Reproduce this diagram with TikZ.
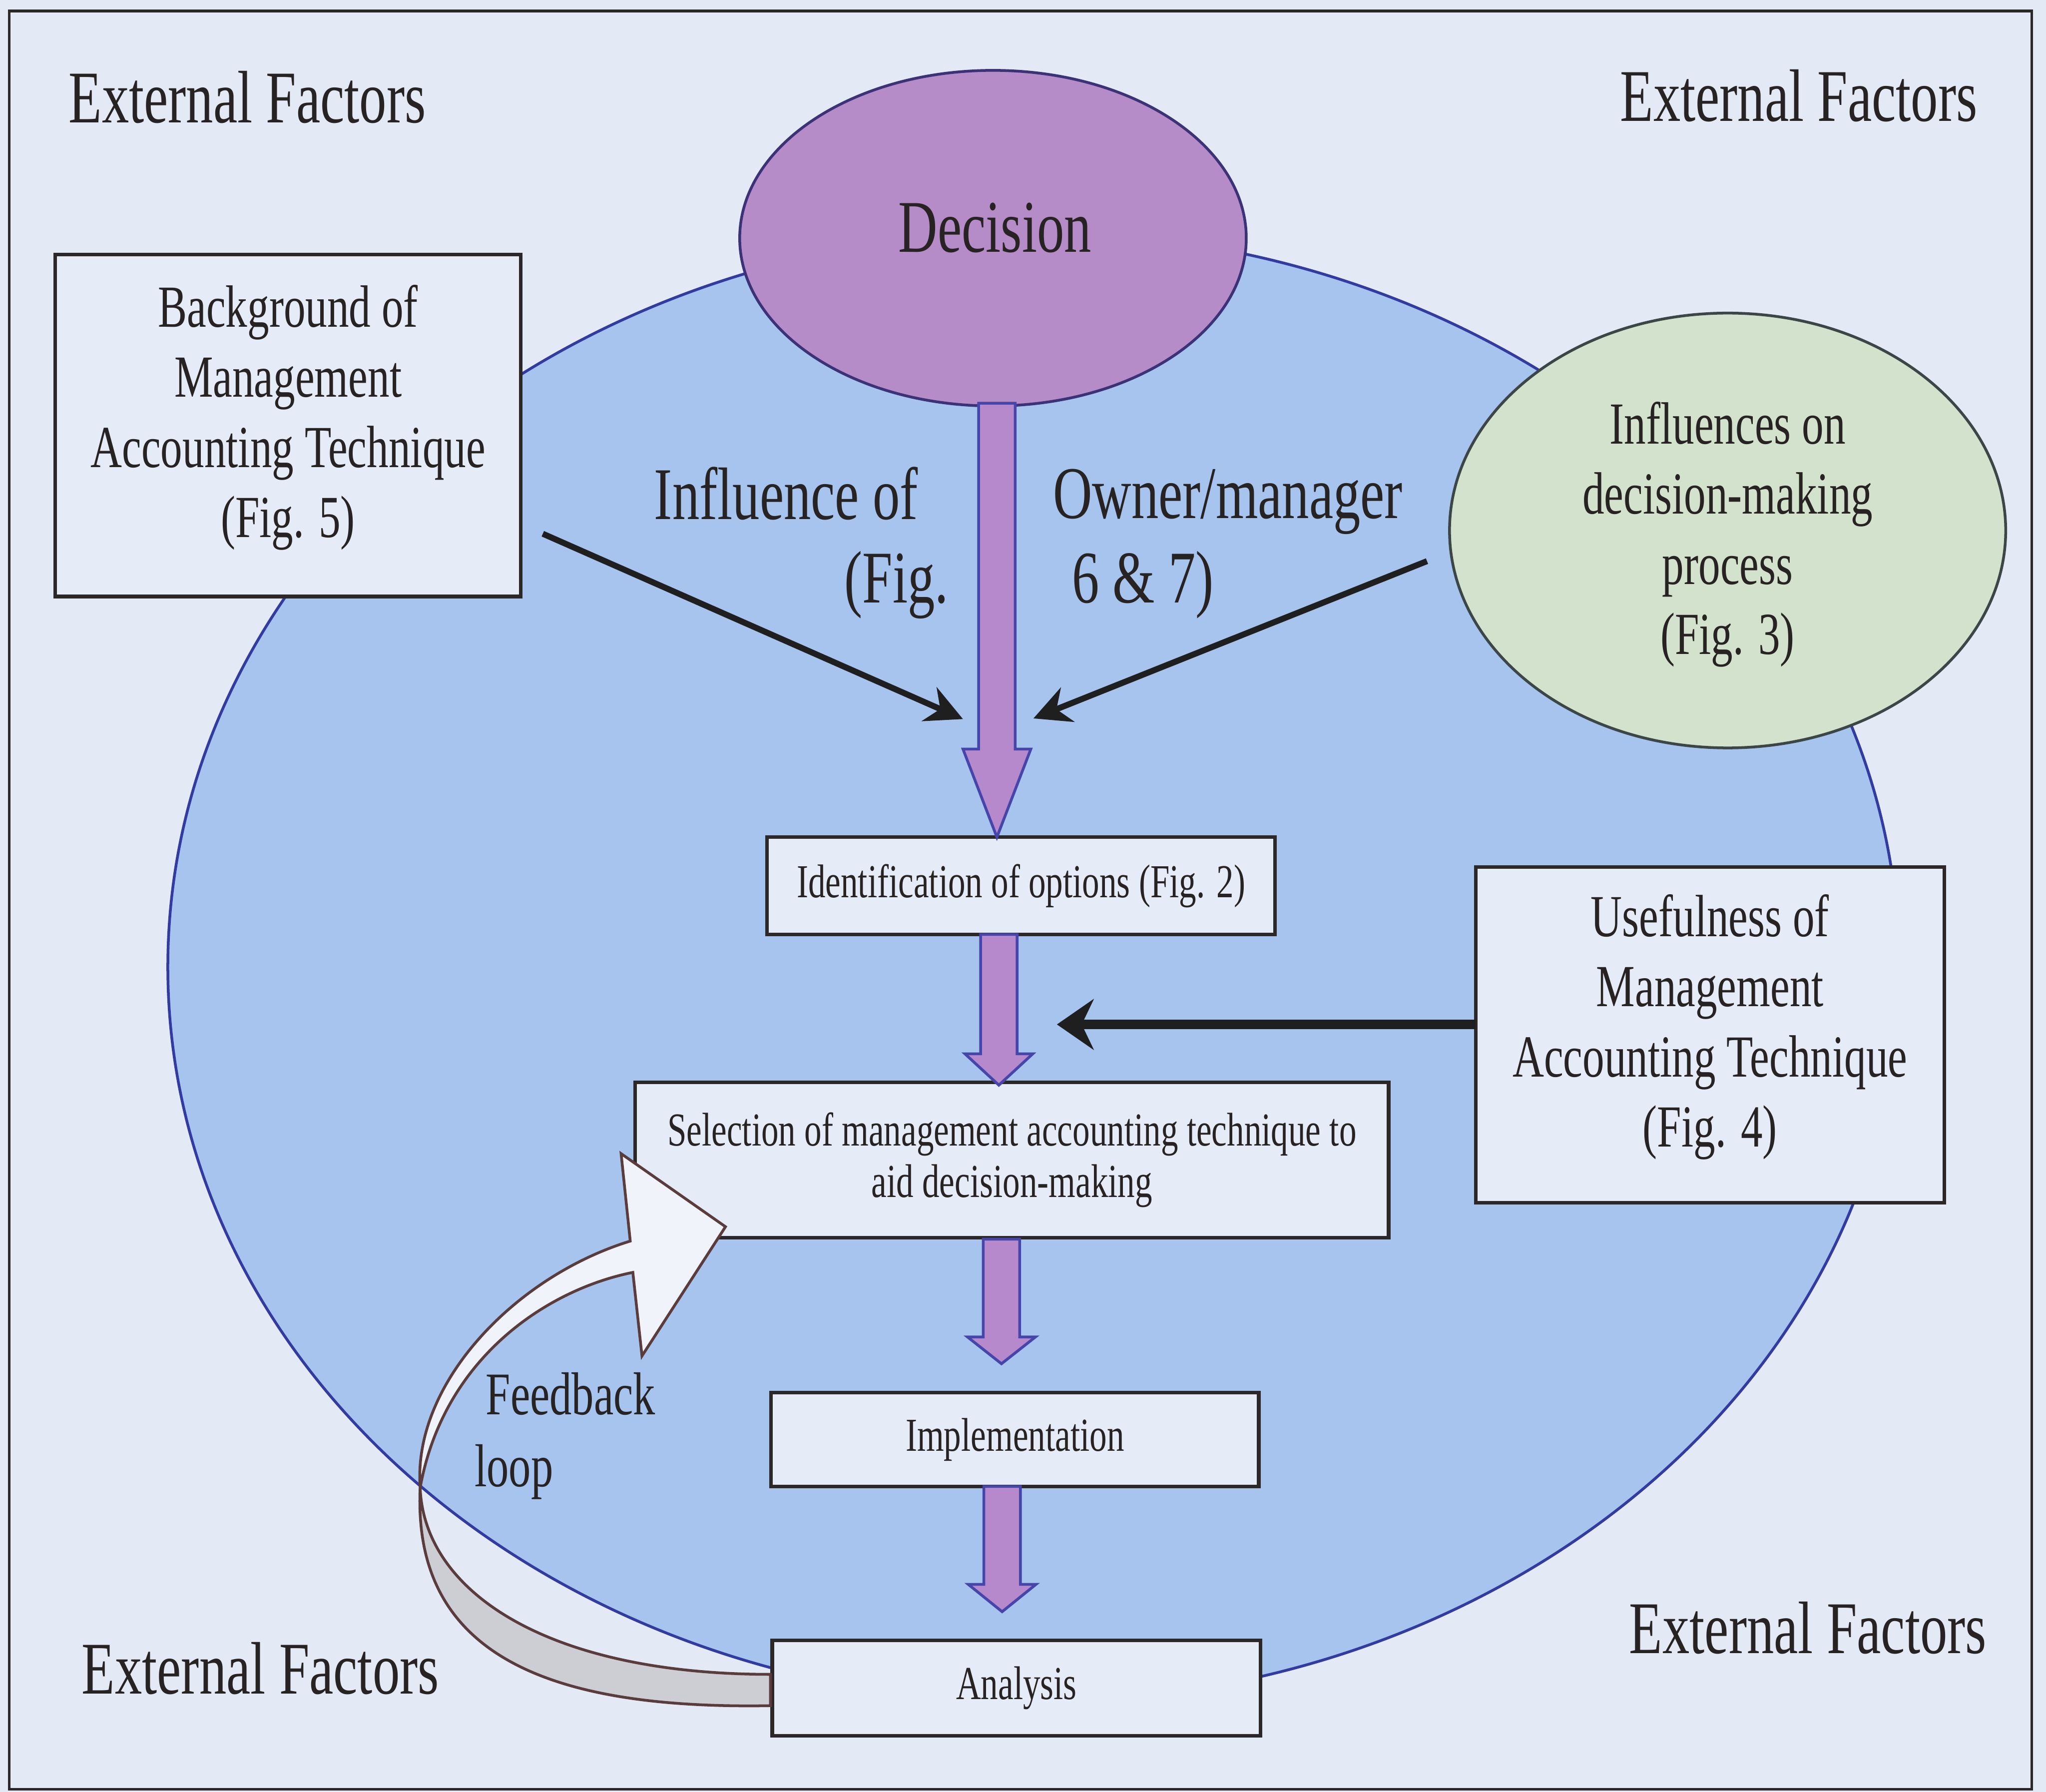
\documentclass[tikz,border=0pt]{standalone}
\usepackage{fontspec}
\setmainfont{Liberation Serif}[FakeStretch=0.73]
\usetikzlibrary{shapes.geometric,arrows.meta}
\definecolor{bgc}{RGB}{227,234,245}
\definecolor{bluefill}{RGB}{166,196,238}
\definecolor{blueline}{RGB}{50,60,160}
\definecolor{decfill}{RGB}{182,140,200}
\definecolor{decline}{RGB}{60,50,120}
\definecolor{greenfill}{RGB}{210,226,204}
\definecolor{greenline}{RGB}{60,70,70}
\definecolor{boxfill}{RGB}{229,236,247}
\definecolor{boxline}{RGB}{45,40,40}
\definecolor{pfill}{RGB}{182,136,204}
\definecolor{pline}{RGB}{70,70,170}
\definecolor{txt}{RGB}{40,35,35}
\definecolor{fbline}{RGB}{90,60,60}
\definecolor{fbgray}{RGB}{205,205,212}
\definecolor{fbwhite}{RGB}{240,243,250}
\newcommand\purplearrow[4]{%
  \draw[parrow] (#1-14,#2) -- (#1+14,#2) -- (#1+14,#3) -- (#1+26,#3) -- (#1,#4)
    -- (#1-26,#3) -- (#1-14,#3) -- cycle;}
\begin{document}
\begin{tikzpicture}[x=0.01cm,y=-0.01cm,
  box/.style={draw=boxline, line width=0.8pt, fill=boxfill, inner sep=0pt, align=center, text=txt},
  bigtxt/.style={font=\fontsize{16.2}{19}\selectfont, text=txt, inner sep=0pt},
  midtxt/.style={font=\fontsize{13}{15.3}\selectfont, text=txt, inner sep=0pt, align=center},
  smalltxt/.style={font=\fontsize{10.3}{11.2}\selectfont},
  parrow/.style={fill=pfill, draw=pline, line width=0.6pt, line join=miter},
  karrow/.style={draw=black!88, line width=1.3pt, -{Stealth[length=8pt,width=8pt]}},
  fbw/.style={fill=fbwhite, draw=fbline, line width=0.6pt, line join=miter},
  fbg/.style={fill=fbgray, draw=fbline, line width=0.6pt}]
\useasboundingbox (0,0) rectangle (1568,1373);
\fill[bgc] (0,0) rectangle (1568,1373);
\draw[boxline, line width=0.6pt] (7,8.4) rectangle (1557,1371);

% external factors
\node[bigtxt, anchor=base west] (ef1) at (52,94) {External Factors};
\node[bigtxt, anchor=base west] (ef2) at (1241,93) {External Factors};
\node[bigtxt, anchor=base west] (ef3) at (62,1298) {External Factors};
\node[bigtxt, anchor=base west] (ef4) at (1248,1267) {External Factors};

% big ellipse
\node[ellipse, draw=blueline, line width=0.6pt, fill=bluefill, minimum width=13.26cm, minimum height=11.26cm, inner sep=0pt] (world) at (792,741) {};

% decision
\node[ellipse, draw=decline, line width=0.6pt, fill=decfill, minimum width=3.88cm, minimum height=2.57cm, inner sep=0pt] (dec) at (761,182.5) {};
\node[bigtxt, anchor=base] (dect) at (762.5,193) {Decision};

% green ellipse
\node[ellipse, draw=greenline, line width=0.6pt, fill=greenfill, minimum width=4.26cm, minimum height=3.33cm, inner sep=0pt] (infl) at (1324,406.5) {};
\node[midtxt] (inflt) at (1324,409.5) {Influences on\\decision-making\\process\\(Fig. 3)};

% side boxes
\node[box, minimum width=3.565cm, minimum height=2.62cm] (bg) at (220.75,326) {};
\node[midtxt] (bgt) at (220.75,320) {Background of\\Management\\Accounting Technique\\(Fig. 5)};
\node[box, minimum width=3.59cm, minimum height=2.57cm] (use) at (1310.5,793) {};
\node[midtxt] (uset) at (1310.5,787) {Usefulness of\\Management\\Accounting Technique\\(Fig. 4)};

% central boxes
\node[box, smalltxt, minimum width=3.89cm, minimum height=0.745cm] (ident) at (782.5,678.75) {Identification of options (Fig. 2)};
\node[box, smalltxt, minimum width=5.77cm, minimum height=1.19cm] (sel) at (775.5,889) {Selection of management accounting technique to\\aid decision-making};
\node[box, smalltxt, minimum width=3.736cm, minimum height=0.72cm] (impl) at (777.8,1103) {Implementation};
\node[box, smalltxt, minimum width=3.74cm, minimum height=0.73cm] (ana) at (779,1293.5) {Analysis};

% purple block arrows
\purplearrow{764}{309}{574}{641.5}
\purplearrow{765.5}{716}{807.5}{831.5}
\purplearrow{767.5}{949.5}{1024.5}{1045}
\purplearrow{768}{1139}{1214}{1235}

% influence labels
\node[bigtxt, anchor=base] (l1) at (602.5,398) {Influence of};
\node[bigtxt, anchor=base] (l2) at (687,462) {(Fig.};
\node[bigtxt, anchor=base] (l3) at (941,397) {Owner/manager};
\node[bigtxt, anchor=base] (l4) at (876,462) {6 \& 7)};

% black arrows
\coordinate (a1s) at (416,409);
\coordinate (a1e) at (738,551);
\coordinate (a2s) at (1093.6,430);
\coordinate (a2e) at (792,550.5);
\coordinate (a3s) at (1131,785);
\coordinate (a3e) at (810,785);
\draw[karrow] (a1s) -- (a1e);
\draw[karrow] (a2s) -- (a2e);
\draw[karrow, line width=2.1pt, -{Stealth[length=8pt,width=11pt]}] (a3s) -- (a3e);

% feedback loop
\coordinate (tw) at (322,1140);
\draw[fbg] (tw) .. controls (325,1220) and (420,1283) .. (ana.west |- 0,1283)
  -- (ana.west |- 0,1307) .. controls (420,1310) and (316,1268) .. (tw) -- cycle;
\draw[fbw] (tw) .. controls (316,1060) and (395,978) .. (483,951) -- (476,884)
  -- (556,940) -- (492,1039) -- (485,975) .. controls (420,988) and (340,1040) .. (tw) -- cycle;
\node[font=\fontsize{13.2}{15}\selectfont, text=txt, inner sep=0pt, anchor=base west] (fb1) at (371.7,1084) {Feedback};
\node[font=\fontsize{13.2}{15}\selectfont, text=txt, inner sep=0pt, anchor=base west] (fb2) at (363,1139) {loop};
\end{tikzpicture}
\end{document}
